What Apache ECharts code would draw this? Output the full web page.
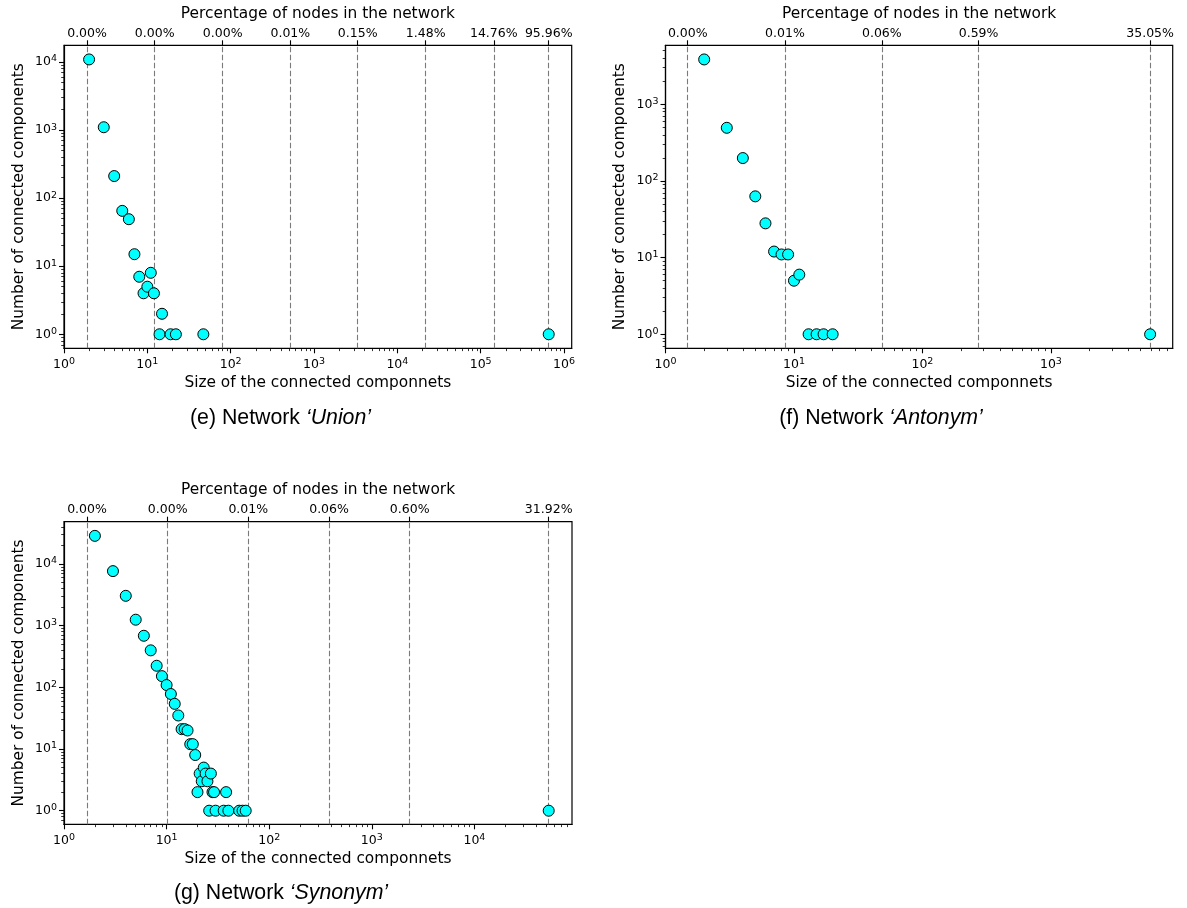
<!DOCTYPE html>
<html><head><meta charset="utf-8">
<script src="https://cdn.jsdelivr.net/npm/echarts@6/dist/echarts.min.js"></script>
<style>html,body{margin:0;padding:0;background:#fff}#c{width:1187px;height:908px}</style>
</head><body><div id="c"></div><script>
// ---------- DATA ----------
// (e) Network 'Union'
const unionSizes  = [2, 3, 4, 5, 6, 7, 8, 9, 10, 11, 12, 14, 15, 19, 22, 47, 655000];
const unionCounts = [10900, 1100, 211, 65, 49, 15, 7, 4, 5, 8, 4, 1, 2, 1, 1, 1, 1];
const unionMarkSizes = [1.89, 12.25, 80.2, 520, 3345, 21900, 143500, 655000];
const unionPctLabels = ['0.00%', '0.00%', '0.00%', '0.01%', '0.15%', '1.48%', '14.76%', '95.96%'];

// (f) Network 'Antonym'
const antonymSizes  = [2, 3, 4, 5, 6, 7, 8, 9, 10, 11, 13, 15, 17, 20, 5918];
const antonymCounts = [3850, 494, 199, 63, 28, 12, 11, 11, 5, 6, 1, 1, 1, 1, 1];
const antonymMarkSizes = [1.49, 8.51, 48.3, 273.6, 5918];
const antonymPctLabels = ['0.00%', '0.01%', '0.06%', '0.59%', '35.05%'];

// (g) Network 'Synonym'
const synonymSizes  = [2, 3, 4, 5, 6, 7, 8, 9, 10, 11, 12, 13, 14, 15, 16, 17, 18, 19, 20, 21, 22, 23, 24, 25, 26, 27, 28, 29, 30, 36, 38, 40, 51, 55, 59, 52960];
const synonymCounts = [28600, 7670, 3050, 1250, 686, 398, 224, 152, 109, 78, 54, 35, 21, 21, 20, 12, 12, 8, 2, 4, 3, 5, 4, 3, 1, 4, 2, 2, 1, 1, 2, 1, 1, 1, 1, 1];
const synonymMarkSizes = [1.675, 10.25, 62.5, 382.8, 2341, 52960];
const synonymPctLabels = ['0.00%', '0.00%', '0.01%', '0.06%', '0.60%', '31.92%'];

const xTitle = 'Size of the connected componnets';
const yTitle = 'Number of connected components';
const topTitle = 'Percentage of nodes in the network';

// ---------- LAYOUT ----------
const panels = [
  {name: 'Union', letter: 'e', sizes: unionSizes, counts: unionCounts, marks: unionMarkSizes, pct: unionPctLabels,
   grid: {left: 64, top: 45.3, width: 507.7, height: 303}, xExp: [0, 6.092], yExp: [-0.206, 4.245], cap: [280.5, 418]},
  {name: 'Antonym', letter: 'f', sizes: antonymSizes, counts: antonymCounts, marks: antonymMarkSizes, pct: antonymPctLabels,
   grid: {left: 665.5, top: 45.3, width: 507.2, height: 303}, xExp: [0, 3.948], yExp: [-0.183, 3.770], cap: [881, 418]},
  {name: 'Synonym', letter: 'g', sizes: synonymSizes, counts: synonymCounts, marks: synonymMarkSizes, pct: synonymPctLabels,
   grid: {left: 64, top: 521.7, width: 508, height: 302.6}, xExp: [0, 4.951], yExp: [-0.2205, 4.686], cap: [281, 893]}
];

const FONT = 'DejaVu Sans';
function majorVals(lo, hi) {
  const out = [];
  for (let k = Math.ceil(lo - 1e-9); k <= Math.floor(hi + 1e-9); k++) out.push(Math.pow(10, k));
  return out;
}
function minorVals(lo, hi) {
  const out = [];
  for (let k = Math.floor(lo); k <= Math.ceil(hi); k++) {
    for (let m = 2; m <= 9; m++) {
      const v = m * Math.pow(10, k);
      const l = Math.log10(v);
      if (l >= lo && l <= hi) out.push(v);
    }
  }
  return out;
}
const powRich = {
  b: {fontSize: 12.5, fontFamily: FONT, color: '#000', lineHeight: 16},
  s: {fontSize: 9.5, fontFamily: FONT, color: '#000', lineHeight: 9, verticalAlign: 'top'}
};
function powFmt(v) { return '{b|10}{s|' + Math.round(Math.log10(v)) + '}'; }

const grids = [], xAxes = [], yAxes = [], series = [], graphics = [];
panels.forEach((p, i) => {
  grids.push(Object.assign({show: true, borderColor: '#000', borderWidth: 1.2, backgroundColor: 'transparent'}, p.grid));
  const xmin = Math.pow(10, p.xExp[0]), xmax = Math.pow(10, p.xExp[1]);
  const ymin = Math.pow(10, p.yExp[0]), ymax = Math.pow(10, p.yExp[1]);
  const xMaj = majorVals(p.xExp[0], p.xExp[1]);
  const yMaj = majorVals(p.yExp[0], p.yExp[1]);
  // bottom major
  xAxes.push({type: 'log', gridIndex: i, position: 'bottom', min: xmin, max: xmax, logBase: 10,
    name: xTitle, nameLocation: 'middle', nameGap: 27.5,
    nameTextStyle: {fontSize: 15.4, fontFamily: FONT, color: '#000'},
    axisLine: {show: true, lineStyle: {color: '#000', width: 1.2}},
    axisTick: {show: true, inside: false, length: 5, customValues: xMaj, lineStyle: {color: '#000', width: 1.1}},
    axisLabel: {show: true, margin: 8.5, customValues: xMaj, formatter: powFmt, rich: powRich},
    splitLine: {show: false}, minorTick: {show: false}, minorSplitLine: {show: false}});
  // bottom minor
  const xMin = minorVals(p.xExp[0], p.xExp[1]);
  xAxes.push({type: 'log', gridIndex: i, position: 'bottom', min: xmin, max: xmax, logBase: 10,
    axisLine: {show: false},
    axisTick: {show: true, inside: false, length: 2.8, customValues: xMin, lineStyle: {color: '#000', width: 0.8}},
    axisLabel: {show: false, customValues: xMin}, splitLine: {show: false}});
  // top percentage axis
  xAxes.push({type: 'log', gridIndex: i, position: 'top', min: xmin, max: xmax, logBase: 10,
    name: topTitle, nameLocation: 'middle', nameGap: 24,
    nameTextStyle: {fontSize: 15.4, fontFamily: FONT, color: '#000'},
    axisLine: {show: false},
    axisTick: {show: true, inside: false, length: 5, customValues: p.marks, lineStyle: {color: '#000', width: 1.1}},
    axisLabel: {show: true, margin: 5.5, customValues: p.marks, fontSize: 12.5, fontFamily: FONT, color: '#000',
      formatter: (v) => {
        let best = 0, bd = Infinity;
        p.marks.forEach((m, j) => { const d = Math.abs(Math.log10(m) - Math.log10(v)); if (d < bd) { bd = d; best = j; } });
        return p.pct[best];
      }},
    splitLine: {show: false}});
  // left major
  yAxes.push({type: 'log', gridIndex: i, position: 'left', min: ymin, max: ymax, logBase: 10,
    name: yTitle, nameLocation: 'middle', nameGap: 38, nameRotate: 90,
    nameTextStyle: {fontSize: 15.4, fontFamily: FONT, color: '#000'},
    axisLine: {show: true, lineStyle: {color: '#000', width: 1.2}},
    axisTick: {show: true, inside: false, length: 5, customValues: yMaj, lineStyle: {color: '#000', width: 1.1}},
    axisLabel: {show: true, margin: 7, customValues: yMaj, formatter: powFmt, rich: powRich},
    splitLine: {show: false}});
  const yMin = minorVals(p.yExp[0], p.yExp[1]);
  yAxes.push({type: 'log', gridIndex: i, position: 'left', min: ymin, max: ymax, logBase: 10,
    axisLine: {show: false},
    axisTick: {show: true, inside: false, length: 2.8, customValues: yMin, lineStyle: {color: '#000', width: 0.8}},
    axisLabel: {show: false, customValues: yMin}, splitLine: {show: false}});

  series.push({type: 'scatter', xAxisIndex: 3 * i, yAxisIndex: 2 * i, z: 10,
    data: p.sizes.map((s, j) => [s, p.counts[j]]),
    symbol: 'circle', symbolSize: 11,
    itemStyle: {color: '#00FFFF', borderColor: '#000', borderWidth: 1, opacity: 1},
    markLine: {silent: true, symbol: 'none', animation: false,
      label: {show: false},
      lineStyle: {type: [5.5, 2.5], color: '#7a7a7a', width: 1.1},
      emphasis: {disabled: true},
      data: p.marks.map(m => ({xAxis: m}))}
  });

  graphics.push({type: 'text', x: p.cap[0], y: p.cap[1], z: 10,
    style: {text: '(' + p.letter + ') Network {i|\u2018' + p.name + '\u2019}',
      textAlign: 'center', textVerticalAlign: 'middle',
      fontSize: 21.3, fontFamily: 'Liberation Sans', fill: '#000',
      rich: {i: {fontStyle: 'italic', fontSize: 21.3, fontFamily: 'Liberation Sans', fill: '#000'}}}});
});

const chart = echarts.init(document.getElementById('c'), null, {renderer: 'canvas'});
chart.setOption({
  animation: false,
  backgroundColor: '#fff',
  textStyle: {fontFamily: FONT},
  grid: grids, xAxis: xAxes, yAxis: yAxes, series: series, graphic: graphics
});
</script></body></html>
